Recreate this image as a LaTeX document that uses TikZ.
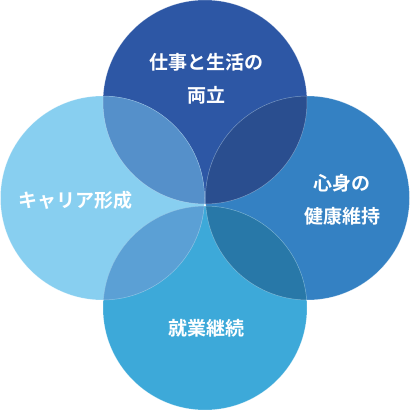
\documentclass[tikz,border=0pt]{standalone}
\usepackage{fontspec}
\newfontfamily\jpfont{Noto Sans CJK JP}[BoldFont={* Bold}]
\definecolor{topblue}{HTML}{2D57A5}
\definecolor{leftblue}{HTML}{88CFF0}
\definecolor{rightblue}{HTML}{3481C3}
\definecolor{botblue}{HTML}{3DA9D9}
\definecolor{tlblue}{HTML}{5590CA}
\definecolor{trblue}{HTML}{2A4E8F}
\definecolor{brblue}{HTML}{2878A8}
\definecolor{blblue}{HTML}{5BA0D5}
\tikzset{
  label/.style={text=white, font=\jpfont\bfseries\fontsize{19}{33}\selectfont, align=center},
  rim/.style={draw=white, draw opacity=0.35, line width=0.5pt}
}
\begin{document}
\begin{tikzpicture}[x=1pt,y=1pt]
\useasboundingbox (0,0) rectangle (410,410);
\def\rad{102}
\coordinate (ctop) at (205,308);
\coordinate (cleft) at (102.5,212);
\coordinate (cright) at (307.5,212);
\coordinate (cbot) at (205,102);

\fill[topblue] (ctop) circle (\rad);
\fill[leftblue] (cleft) circle (\rad);
\fill[rightblue] (cright) circle (\rad);
\fill[botblue] (cbot) circle (\rad);

% overlaps
\begin{scope}
\clip (ctop) circle (\rad);
\fill[tlblue] (cleft) circle (\rad);
\fill[trblue] (cright) circle (\rad);
\end{scope}
\begin{scope}
\clip (cbot) circle (\rad);
\fill[blblue] (cleft) circle (\rad);
\fill[brblue] (cright) circle (\rad);
\end{scope}

\draw[rim] (ctop) circle (\rad);
\draw[rim] (cleft) circle (\rad);
\draw[rim] (cright) circle (\rad);
\draw[rim] (cbot) circle (\rad);

\node[label] (balance) at (206,331) {仕事と生活の\\両立};
\node[label] (career) at (76,210) {キャリア形成};
\node[label] (health) at (342,210) {心身の\\健康維持};
\node[label] (work) at (206,82) {就業継続};
\end{tikzpicture}
\end{document}
